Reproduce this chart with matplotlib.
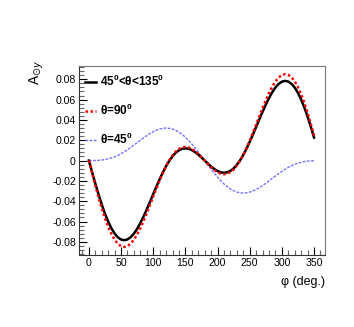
import matplotlib
matplotlib.use("Agg")
import matplotlib.pyplot as plt
from matplotlib import font_manager
from matplotlib.ticker import MultipleLocator, FuncFormatter

# Кути phi (град.)
phi = [0, 5, 10, 15, 20, 25, 30, 35, 40, 45, 50, 55, 60, 65, 70, 75, 80, 85,
       90, 95, 100, 105, 110, 115, 120, 125, 130, 135, 140, 145, 150, 155, 160, 165, 170, 175,
       180, 185, 190, 195, 200, 205, 210, 215, 220, 225, 230, 235, 240, 245, 250, 255, 260, 265,
       270, 275, 280, 285, 290, 295, 300, 305, 310, 315, 320, 325, 330, 335, 340, 345, 350]

# 45 < theta < 135
a_wide = [0.0, -0.0114, -0.0226, -0.0332, -0.0432, -0.0522, -0.0600, -0.0666, -0.0718, -0.0755,
          -0.0777, -0.0784, -0.0776, -0.0754, -0.0719, -0.0672, -0.0615, -0.0550,
          -0.0480, -0.0406, -0.0330, -0.0256, -0.0184, -0.0116, -0.0055, -0.0002, 0.0042, 0.0077,
          0.0101, 0.0116, 0.0120, 0.0116, 0.0103, 0.0084, 0.0059, 0.0030,
          0.0, -0.0030, -0.0059, -0.0084, -0.0103, -0.0116, -0.0120, -0.0116, -0.0101, -0.0077,
          -0.0042, 0.0002, 0.0055, 0.0116, 0.0184, 0.0256, 0.0330, 0.0406,
          0.0480, 0.0550, 0.0615, 0.0672, 0.0719, 0.0754, 0.0776, 0.0784, 0.0777, 0.0755,
          0.0718, 0.0666, 0.0600, 0.0522, 0.0432, 0.0332, 0.0226]

# theta = 90
a_90 = [0.0, -0.0124, -0.0245, -0.0361, -0.0469, -0.0567, -0.0651, -0.0723, -0.0779, -0.0819,
        -0.0843, -0.0850, -0.0841, -0.0817, -0.0778, -0.0727, -0.0665, -0.0594,
        -0.0518, -0.0437, -0.0354, -0.0274, -0.0195, -0.0121, -0.0055, 0.0003, 0.0050, 0.0088,
        0.0114, 0.0130, 0.0134, 0.0129, 0.0114, 0.0093, 0.0065, 0.0033,
        0.0, -0.0033, -0.0065, -0.0093, -0.0114, -0.0129, -0.0134, -0.0130, -0.0114, -0.0088,
        -0.0050, -0.0003, 0.0055, 0.0121, 0.0195, 0.0274, 0.0354, 0.0437,
        0.0518, 0.0594, 0.0665, 0.0727, 0.0778, 0.0817, 0.0841, 0.0850, 0.0843, 0.0819,
        0.0779, 0.0723, 0.0651, 0.0567, 0.0469, 0.0361, 0.0245]

# theta = 45
a_45 = [0.0, 0.0000, 0.0001, 0.0002, 0.0005, 0.0010, 0.0017, 0.0026, 0.0037, 0.0051,
        0.0067, 0.0086, 0.0107, 0.0129, 0.0152, 0.0176, 0.0200, 0.0224,
        0.0246, 0.0267, 0.0284, 0.0299, 0.0310, 0.0317, 0.0320, 0.0317, 0.0310, 0.0297,
        0.0279, 0.0257, 0.0230, 0.0198, 0.0163, 0.0125, 0.0085, 0.0043,
        0.0, -0.0043, -0.0085, -0.0125, -0.0163, -0.0198, -0.0230, -0.0257, -0.0279, -0.0297,
        -0.0310, -0.0317, -0.0320, -0.0317, -0.0310, -0.0299, -0.0284, -0.0267,
        -0.0246, -0.0224, -0.0200, -0.0176, -0.0152, -0.0129, -0.0107, -0.0086, -0.0067, -0.0051,
        -0.0037, -0.0026, -0.0017, -0.0010, -0.0005, -0.0002, -0.0001]

labels = ["45$^{0}$<θ<135$^{0}$", "θ=90$^{0}$", "θ=45$^{0}$"]

names = {f.name for f in font_manager.fontManager.ttflist}
bold_font = "Liberation Sans Narrow" if "Liberation Sans Narrow" in names else "Liberation Sans"

plt.rcParams["font.family"] = ["Liberation Sans", "DejaVu Sans"]
plt.rcParams["mathtext.fontset"] = "custom"
plt.rcParams["mathtext.rm"] = bold_font + ":bold"
plt.rcParams["mathtext.it"] = bold_font + ":bold"
plt.rcParams["mathtext.bf"] = bold_font + ":bold"

fig = plt.figure(figsize=(3.54, 3.27), dpi=100)
ax = fig.add_axes([0.222, 0.219, 0.696, 0.580])

ax.plot(phi, a_45, color=(0.45, 0.45, 1.0), lw=1.0, linestyle=(0, (2, 1)), label=labels[2])
ax.plot(phi, a_wide, color="black", lw=1.8, label=labels[0])
ax.plot(phi, a_90, color="red", lw=1.8, linestyle=(0, (1, 1)), label=labels[1])

ax.set_xlim(-16, 367)
ax.set_ylim(-0.0933, 0.0933)

ax.xaxis.set_major_locator(MultipleLocator(50))
ax.xaxis.set_minor_locator(MultipleLocator(10))
ax.yaxis.set_major_locator(MultipleLocator(0.02))
ax.yaxis.set_minor_locator(MultipleLocator(0.004))
ax.yaxis.set_major_formatter(FuncFormatter(lambda v, p: "0" if abs(v) < 1e-9 else f"{v:.2f}"))

ax.tick_params(which="both", direction="in", top=False, right=False, labelsize=7.6, pad=2)
ax.tick_params(which="major", length=6, width=0.8)
ax.tick_params(which="minor", length=3.5, width=0.8, color="#666666")
for side in ["left", "bottom"]:
    ax.spines[side].set_color("#333333")
for side in ["top", "right"]:
    ax.spines[side].set_color("#777777")

ax.set_xlabel("φ (deg.)", loc="right", fontsize=9, labelpad=6)
fig.text(0.105, 0.78, r"A$_{\odot y}$", rotation=90, ha="center", va="center",
         fontsize=10, math_fontfamily="dejavusans")

h, l = ax.get_legend_handles_labels()
order = [1, 2, 0]
leg = ax.legend([h[i] for i in order], [l[i] for i in order], loc="upper left",
                bbox_to_anchor=(0.026, 0.955), frameon=False, borderpad=0,
                borderaxespad=0, handlelength=0.95, handletextpad=0.33,
                labelspacing=1.15, prop={"weight": "bold", "size": 8.5})

fig.savefig("out.png", dpi=100)
